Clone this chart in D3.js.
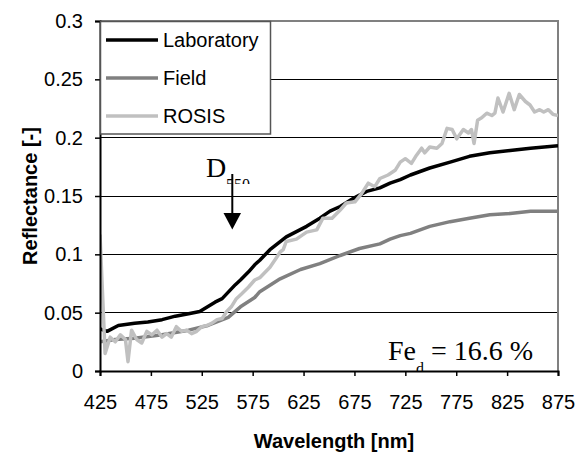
<!DOCTYPE html>
<html>
<head>
<meta charset="utf-8">
<script src="https://cdn.jsdelivr.net/npm/d3@7"></script>
<style>
  html, body { margin: 0; padding: 0; background: #fff; }
  svg { display: block; }
  text { font-family: "Liberation Sans", Arial, sans-serif; }
  .serif { font-family: "Liberation Serif", "Times New Roman", serif; }
</style>
</head>
<body>
<svg id="chart" width="579" height="459"></svg>
<script>
// Reflectance spectra of one soil sample (Fe_d = 16.6 %)
const labWavelength = [425, 432, 443, 459, 472, 486, 499, 512, 523, 538, 545, 558, 563, 571, 577, 582, 592, 608, 628, 641, 651, 661, 674, 687, 700, 710, 720, 730, 749, 769, 788, 808, 828, 848, 875];
const labReflectance = [0.036, 0.034, 0.039, 0.041, 0.042, 0.044, 0.047, 0.049, 0.051, 0.059, 0.062, 0.074, 0.078, 0.085, 0.091, 0.095, 0.104, 0.115, 0.124, 0.131, 0.137, 0.141, 0.148, 0.154, 0.157, 0.161, 0.164, 0.168, 0.174, 0.179, 0.184, 0.187, 0.189, 0.191, 0.193];

const fieldWavelength = [425, 440, 459, 486, 512, 531, 551, 563, 577, 582, 602, 622, 641, 661, 680, 700, 710, 720, 730, 749, 769, 788, 808, 828, 848, 875];
const fieldReflectance = [0.025, 0.027, 0.028, 0.031, 0.035, 0.039, 0.046, 0.055, 0.063, 0.068, 0.079, 0.087, 0.092, 0.099, 0.105, 0.109, 0.113, 0.116, 0.118, 0.124, 0.128, 0.131, 0.134, 0.135, 0.137, 0.137];

const rosisWavelength = [425, 430, 435, 440, 445, 450, 452.5, 456, 461, 466, 471, 476, 481, 486, 490.5, 495, 500, 505, 510, 515, 520, 525, 530, 535, 540, 545, 549.5, 554, 559, 564, 571, 577, 582, 592, 599, 602, 605, 608, 618, 628, 638, 644, 653, 661, 667, 675.5, 682, 688.6, 695, 700, 708, 715, 720, 725, 731, 736, 741, 744, 749, 756, 761, 766, 771, 775.5, 782, 787, 790, 792.5, 796, 800, 805, 810, 813, 816, 821, 827, 832, 837, 843, 847.5, 852, 857, 861, 865.5, 870, 875];
const rosisReflectance = [0.117, 0.015, 0.029, 0.025, 0.031, 0.027, 0.008, 0.035, 0.027, 0.024, 0.034, 0.031, 0.035, 0.029, 0.032, 0.029, 0.038, 0.034, 0.035, 0.032, 0.034, 0.038, 0.039, 0.041, 0.044, 0.045, 0.051, 0.055, 0.062, 0.066, 0.072, 0.078, 0.080, 0.089, 0.098, 0.102, 0.104, 0.111, 0.113, 0.119, 0.121, 0.131, 0.131, 0.138, 0.144, 0.145, 0.152, 0.161, 0.158, 0.165, 0.168, 0.172, 0.179, 0.182, 0.178, 0.185, 0.191, 0.187, 0.192, 0.191, 0.195, 0.208, 0.207, 0.199, 0.207, 0.204, 0.207, 0.195, 0.215, 0.217, 0.221, 0.219, 0.221, 0.234, 0.222, 0.238, 0.224, 0.237, 0.231, 0.228, 0.222, 0.224, 0.222, 0.224, 0.220, 0.219];

const seriesNames = ["Laboratory", "Field", "ROSIS"];
const seriesColors = ["#000000", "#808080", "#c0c0c0"];

const xTicks = [425, 475, 525, 575, 625, 675, 725, 775, 825, 875];
const yTicks = [0, 0.05, 0.1, 0.15, 0.2, 0.25, 0.3];

const svg = d3.select("#chart");
const plot = { left: 100, right: 558, top: 21, bottom: 371 };

const x = d3.scaleLinear().domain([425, 875]).range([plot.left, plot.right]);
const y = d3.scaleLinear().domain([0, 0.3]).range([plot.bottom, plot.top]);

svg.append("defs").append("clipPath").attr("id", "plotClip")
  .append("rect")
  .attr("x", plot.left).attr("y", plot.top)
  .attr("width", plot.right - plot.left).attr("height", plot.bottom - plot.top);

// horizontal gridlines
svg.append("g")
  .selectAll("line")
  .data(yTicks.filter(t => t > 0 && t < 0.3))
  .join("line")
  .attr("x1", plot.left).attr("x2", plot.right)
  .attr("y1", d => y(d)).attr("y2", d => y(d))
  .attr("stroke", "#000").attr("stroke-width", 1)
  .attr("shape-rendering", "crispEdges");

// plot frame (top and right)
svg.append("path")
  .attr("d", `M${plot.left},${y(0.3)}H${plot.right}V${plot.bottom}`)
  .attr("fill", "none").attr("stroke", "#808080").attr("stroke-width", 2);

// spectra
const series = [
  { w: labWavelength, v: labReflectance },
  { w: fieldWavelength, v: fieldReflectance },
  { w: rosisWavelength, v: rosisReflectance }
];
const line = d3.line().x(d => x(d[0])).y(d => y(d[1]));
const curves = svg.append("g").attr("clip-path", "url(#plotClip)");
series.forEach((s, i) => {
  curves.append("path")
    .datum(d3.zip(s.w, s.v))
    .attr("d", line)
    .attr("fill", "none")
    .attr("stroke", seriesColors[i])
    .attr("stroke-width", 3.5)
    .attr("stroke-linejoin", "round");
});

// axes
const xAxis = svg.append("g")
  .attr("transform", `translate(0,${plot.bottom})`)
  .call(d3.axisBottom(x).tickValues(xTicks).tickSize(5).tickPadding(19).tickFormat(d3.format("d")));
const yAxis = svg.append("g")
  .attr("transform", `translate(${plot.left},0)`)
  .call(d3.axisLeft(y).tickValues(yTicks).tickSize(5).tickPadding(12).tickFormat(d => d === 0 ? "0" : String(d)));
[xAxis, yAxis].forEach(g => {
  g.select(".domain").attr("stroke", "#000").attr("stroke-width", 2);
  g.selectAll(".tick line").attr("stroke", "#000").attr("stroke-width", 1.5);
  g.selectAll(".tick text")
    .attr("fill", "#000")
    .style("font-family", "'Liberation Sans', Arial, sans-serif")
    .style("font-size", "20px");
});

// axis titles
svg.append("text")
  .attr("x", 334).attr("y", 448)
  .attr("text-anchor", "middle")
  .style("font-size", "20px").style("font-weight", "bold")
  .text("Wavelength [nm]");
svg.append("text")
  .attr("transform", `translate(37,${(plot.top + plot.bottom) / 2}) rotate(-90)`)
  .attr("text-anchor", "middle")
  .style("font-size", "20px").style("font-weight", "bold")
  .text("Reflectance [-]");

// legend
const legend = svg.append("g");
legend.append("rect")
  .attr("x", 100.5).attr("y", 21.5).attr("width", 170).attr("height", 112.5)
  .attr("fill", "#fff").attr("stroke", "#555").attr("stroke-width", 1.5);
seriesNames.forEach((name, i) => {
  const cy = 40 + i * 38;
  legend.append("line")
    .attr("x1", 106).attr("x2", 158).attr("y1", cy).attr("y2", cy)
    .attr("stroke", seriesColors[i]).attr("stroke-width", 3.5);
  legend.append("text")
    .attr("x", 163).attr("y", cy + 7)
    .style("font-size", "20px")
    .text(name);
});

// D550 marker
svg.append("clipPath").attr("id", "subClip")
  .append("rect").attr("x", 220).attr("y", 150).attr("width", 40).attr("height", 34);
svg.append("text").attr("class", "serif")
  .attr("x", 206).attr("y", 177)
  .style("font-size", "28px")
  .text("D");
svg.append("text").attr("class", "serif")
  .attr("x", 226).attr("y", 190)
  .attr("clip-path", "url(#subClip)")
  .style("font-size", "16px")
  .text("550");
svg.append("line")
  .attr("x1", 232.3).attr("x2", 232.3).attr("y1", 174).attr("y2", 214)
  .attr("stroke", "#000").attr("stroke-width", 2);
svg.append("path")
  .attr("d", "M223.5,213L241,213L232.3,229.5Z")
  .attr("fill", "#000");

// iron content annotation
const fe = svg.append("text").attr("class", "serif")
  .attr("x", 388).attr("y", 360)
  .attr("clip-path", "url(#plotClip)")
  .style("font-size", "28px");
fe.append("tspan").text("Fe");
fe.append("tspan").attr("dy", 14).style("font-size", "16px").text("d");
fe.append("tspan").attr("dy", -14).text(" = 16.6 %");
</script>
</body>
</html>
